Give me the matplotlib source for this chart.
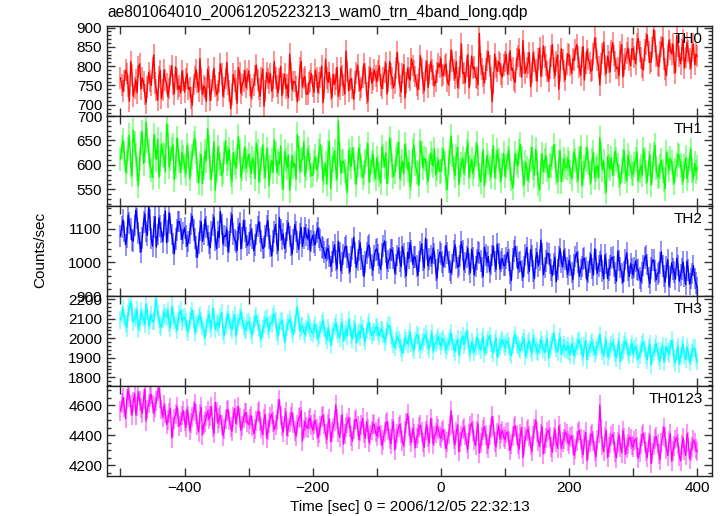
import numpy as np
import matplotlib.pyplot as plt
from matplotlib.ticker import MultipleLocator

# ---  DATA  --- #
# 2-s bins from -500 s to 400 s (one row = 100 s)
TIME = np.arange(-500, 401, 2)

TH0 = [
    770, 752, 735, 761, 790, 781, 748, 709, 812, 777, 722, 744, 765, 731, 798, 806, 741, 770, 760, 727, 705, 746, 783, 762, 750, 795, 829, 757, 738, 712, 772, 789, 716, 738, 790, 764, 755, 721, 742, 776, 801, 753, 728, 798, 766, 740, 749, 731, 787, 763,
    733, 768, 781, 740, 745, 717, 699, 753, 772, 791, 758, 734, 820, 766, 727, 749, 744, 709, 792, 772, 711, 739, 763, 795, 748, 726, 737, 758, 806, 779, 722, 745, 768, 810, 754, 736, 690, 728, 779, 761, 741, 704, 796, 782, 730, 752, 761, 789, 745, 767,
    788, 752, 719, 741, 752, 776, 803, 764, 741, 722, 770, 793, 696, 735, 784, 768, 757, 781, 735, 746, 812, 770, 748, 731, 766, 799, 724, 755, 779, 742, 752, 718, 831, 784, 739, 760, 760, 747, 708, 739, 795, 812, 746, 768, 773, 727, 728, 756, 762, 781,
    749, 732, 790, 771, 732, 756, 771, 800, 705, 744, 818, 769, 758, 784, 741, 719, 779, 753, 766, 797, 722, 740, 797, 776, 751, 728, 839, 787, 736, 764, 768, 742, 714, 759, 782, 803, 760, 738, 745, 772, 806, 781, 731, 709, 772, 795, 756, 767, 790, 774,
    760, 789, 801, 752, 742, 770, 785, 808, 728, 761, 812, 779, 770, 744, 755, 796, 836, 782, 749, 733, 781, 804, 718, 757, 795, 771, 764, 819, 802, 788, 773, 752, 740, 767, 828, 794, 757, 736, 789, 813, 745, 778, 812, 791, 776, 749, 762, 784, 807, 798,
    820, 774, 778, 801, 806, 762, 751, 789, 842, 813, 790, 768, 812, 745, 769, 798, 858, 781, 783, 757, 801, 829, 744, 776, 826, 794, 798, 771, 770, 752, 885, 806, 792, 774, 756, 793, 815, 838, 800, 769, 708, 756, 831, 797, 787, 812, 805, 779, 772, 803,
    812, 831, 779, 806, 840, 790, 795, 763, 758, 818, 826, 844, 801, 772, 866, 809, 782, 797, 809, 835, 747, 784, 834, 812, 790, 761, 818, 847, 774, 801, 852, 823, 803, 786, 761, 794, 827, 856, 796, 775, 812, 829, 740, 788, 845, 817, 788, 765, 806, 832,
    829, 802, 781, 819, 815, 843, 856, 824, 797, 776, 822, 851, 764, 808, 841, 819, 808, 787, 790, 832, 873, 847, 815, 798, 752, 806, 833, 862, 802, 781, 826, 811, 785, 839, 861, 828, 812, 794, 796, 776, 838, 856, 772, 803, 819, 834, 847, 816, 801, 845,
    845, 823, 806, 859, 872, 838, 821, 797, 790, 842, 858, 881, 836, 809, 812, 848, 894, 866, 827, 803, 799, 836, 851, 874, 818, 792, 776, 829, 866, 843, 832, 857, 809, 783, 879, 851, 825, 806, 842, 868, 795, 822, 861, 839, 818, 795, 838, 857, 804, 831,
    826,
]

TH1 = [
    612, 637, 650, 624, 585, 606, 633, 661, 598, 579, 671, 644, 620, 593, 557, 612, 645, 667, 603, 628, 688, 650, 628, 599, 590, 574, 661, 638, 611, 652, 575, 603, 642, 621, 619, 586, 684, 659, 596, 613, 632, 641, 570, 597, 655, 630, 608, 584, 626, 615,
    598, 582, 640, 619, 571, 603, 617, 644, 655, 626, 589, 563, 603, 621, 562, 594, 628, 609, 674, 637, 595, 571, 611, 648, 548, 590, 636, 615, 602, 579, 587, 624, 649, 603, 613, 632, 580, 566, 625, 604, 596, 617, 658, 629, 574, 592, 610, 637, 592, 608,
    621, 599, 583, 614, 604, 572, 645, 627, 566, 589, 612, 641, 597, 575, 633, 612, 558, 596, 609, 585, 651, 623, 585, 607, 602, 638, 574, 551, 627, 610, 594, 620, 548, 582, 619, 596, 603, 571, 662, 634, 588, 609, 611, 647, 577, 593, 633, 615, 600, 578,
    579, 606, 617, 590, 596, 628, 641, 614, 568, 584, 603, 561, 625, 647, 552, 593, 611, 629, 592, 570, 690, 621, 584, 606, 608, 588, 571, 543, 629, 612, 597, 635, 612, 586, 560, 601, 635, 617, 598, 574, 583, 607, 621, 643, 565, 589, 606, 622, 590, 571,
    614, 595, 580, 563, 637, 618, 596, 624, 562, 587, 655, 630, 599, 576, 585, 611, 621, 647, 573, 593, 608, 581, 642, 619, 591, 605, 556, 572, 627, 640, 603, 586, 581, 559, 649, 624, 595, 613, 612, 583, 567, 598, 624, 609, 598, 633, 579, 592, 610, 587,
    588, 611, 632, 603, 571, 550, 605, 627, 659, 620, 594, 578, 617, 636, 560, 590, 601, 614, 583, 602, 628, 645, 575, 596, 611, 582, 596, 621, 644, 613, 579, 566, 602, 631, 557, 588, 619, 604, 593, 575, 608, 639, 574, 597, 631, 610, 589, 568, 600, 623,
    577, 598, 614, 631, 592, 571, 553, 584, 623, 606, 598, 627, 642, 613, 580, 559, 606, 593, 569, 588, 611, 636, 595, 578, 632, 604, 561, 549, 600, 622, 586, 609, 619, 590, 574, 600, 598, 614, 641, 618, 583, 565, 605, 629, 566, 590, 612, 597, 594, 612,
    603, 586, 571, 599, 627, 610, 589, 568, 614, 637, 558, 582, 596, 611, 636, 605, 584, 563, 609, 626, 573, 591, 598, 574, 655, 622, 590, 608, 566, 545, 617, 598, 592, 614, 579, 602, 628, 611, 599, 577, 561, 589, 607, 630, 585, 567, 620, 603, 596, 581,
    582, 601, 611, 627, 567, 588, 598, 579, 633, 612, 586, 565, 603, 620, 559, 583, 621, 640, 594, 575, 578, 597, 609, 588, 570, 552, 626, 606, 591, 613, 605, 584, 563, 590, 600, 622, 618, 599, 584, 567, 597, 615, 572, 589, 612, 631, 589, 571, 603, 586,
    595,
]

TH2 = [
    1078, 1104, 1125, 1091, 1052, 1073, 1140, 1117, 1098, 1066, 1063, 1109, 1155, 1130, 1087, 1059, 1031, 1072, 1119, 1143, 1092, 1080, 1168, 1126, 1070, 1048, 1104, 1135, 1045, 1082, 1132, 1107, 1089, 1061, 1110, 1152, 1058, 1093, 1147, 1115, 1083, 1056, 1025, 1069, 1096, 1121, 1121, 1099, 1068, 1087,
    1102, 1078, 1049, 1062, 1086, 1114, 1137, 1096, 1071, 1045, 1015, 1058, 1094, 1120, 1062, 1083, 1128, 1105, 1080, 1057, 1043, 1091, 1110, 1134, 1066, 1040, 1091, 1073, 1150, 1112, 1055, 1079, 1077, 1098, 1032, 1061, 1118, 1141, 1084, 1067, 1061, 1035, 1099, 1116, 1040, 1072, 1125, 1093, 1073, 1050,
    1058, 1081, 1097, 1070, 1034, 1052, 1082, 1106, 1121, 1089, 1063, 1041, 1045, 1078, 1108, 1124, 1071, 1049, 1019, 1063, 1090, 1112, 1056, 1035, 1133, 1096, 1068, 1084, 1041, 1059, 1094, 1117, 1077, 1050, 1025, 1068, 1112, 1091, 1060, 1038, 1085, 1103, 1047, 1072, 1103, 1081, 1069, 1095, 1036, 1064,
    1080, 1061, 1052, 1089, 1101, 1074, 1067, 1046, 1043, 1030, 1012, 1037, 1041, 1019, 988, 1003, 1030, 1052, 1005, 981, 1062, 1027, 975, 998, 1023, 1044, 1048, 1016, 996, 972, 1017, 1039, 1074, 1028, 984, 1007, 1035, 1058, 1009, 990, 958, 1001, 1028, 1046, 1051, 1013, 992, 976, 1019, 1036,
    1040, 1022, 997, 979, 1025, 1048, 1063, 1031, 982, 1004, 1011, 1037, 1036, 1012, 968, 993, 1020, 1043, 1003, 987, 1047, 1024, 985, 960, 1029, 1011, 1058, 1034, 994, 1016, 1015, 989, 961, 1002, 1032, 1055, 1006, 983, 1071, 1038, 989, 1010, 1018, 997, 1042, 1026, 977, 953, 1008, 1030,
    1024, 1001, 987, 1015, 1050, 1028, 1001, 976, 969, 994, 1033, 1052, 1012, 985, 990, 1018, 1061, 1035, 978, 999, 1016, 1041, 995, 970, 1039, 1013, 962, 988, 1008, 1031, 1027, 1004, 984, 959, 1045, 1022, 999, 1017, 971, 993, 1020, 1048, 1003, 979, 1054, 1026, 980, 1002, 1011, 990,
    992, 1012, 1030, 1007, 968, 946, 1009, 1033, 1047, 1015, 981, 999, 1002, 976, 955, 988, 1021, 1044, 996, 973, 1038, 1019, 974, 952, 1011, 1029, 989, 1006, 1066, 1024, 963, 985, 1004, 1027, 1025, 997, 978, 960, 995, 1016, 942, 979, 1017, 1040, 1000, 986, 1035, 1009, 984, 964,
    1006, 990, 970, 949, 994, 1017, 1029, 1001, 958, 979, 988, 1010, 1012, 983, 947, 971, 999, 1024, 981, 962, 1040, 1008, 966, 989, 1003, 1021, 975, 951, 1021, 996, 952, 978, 990, 1013, 1015, 987, 969, 944, 1033, 1005, 985, 967, 941, 973, 1008, 1028, 977, 958, 996, 982,
    962, 985, 1004, 979, 978, 954, 943, 968, 991, 1013, 1020, 994, 955, 937, 983, 1006, 1007, 975, 948, 966, 972, 998, 1031, 989, 960, 941, 986, 1008, 929, 957, 998, 980, 971, 950, 1012, 991, 944, 963, 980, 1001, 958, 934, 1003, 977, 935, 952, 967, 990, 952, 938,
    925,
]

TH3 = [
    2095, 2122, 2150, 2107, 2072, 2054, 2128, 2161, 2190, 2135, 2084, 2103, 2116, 2147, 2045, 2078, 2139, 2112, 2101, 2070, 2172, 2138, 2063, 2095, 2120, 2086, 2088, 2152, 2205, 2124, 2097, 2067, 2058, 2099, 2131, 2111, 2110, 2143, 2076, 2052, 2165, 2118, 2092, 2071, 2041, 2089, 2124, 2146, 2083, 2104,
    2108, 2084, 2052, 2033, 2091, 2117, 2143, 2099, 2030, 2062, 2077, 2105, 2119, 2091, 2064, 2040, 2003, 2056, 2098, 2126, 2071, 2049, 2156, 2110, 2045, 2073, 2082, 2058, 2112, 2133, 2036, 2014, 2069, 2097, 2125, 2087, 2058, 2042, 2093, 2121, 2010, 2060, 2081, 2106, 2137, 2092, 2062, 2039, 2048, 2079,
    2087, 2065, 2039, 2018, 2072, 2101, 2115, 2080, 2050, 2027, 1995, 2047, 2068, 2093, 2103, 2064, 2041, 2077, 2079, 2108, 2126, 2089, 2033, 2011, 2061, 2085, 2090, 2052, 1978, 2029, 2056, 2082, 2098, 2070, 2044, 2019, 2074, 2111, 2162, 2094, 2037, 2058, 2065, 2034, 2019, 2051, 2083, 2067, 2052, 2031,
    2026, 2049, 2071, 2036, 1998, 2017, 2045, 2072, 2089, 2054, 2013, 1990, 2052, 2028, 1964, 2006, 2037, 2061, 2078, 2040, 2021, 2002, 2060, 2083, 1986, 2024, 2043, 2012, 2095, 2058, 2018, 1996, 2049, 2074, 1975, 2021, 2034, 2003, 2068, 2047, 2007, 1984, 2041, 2066, 2083, 2035, 2015, 2032, 2029, 2055,
    2058, 2031, 2012, 2044, 2046, 2020, 1981, 2008, 2039, 2067, 2063, 2016, 1995, 1969, 1952, 1987, 2011, 1994, 1978, 1950, 1923, 1962, 2004, 1985, 1970, 1999, 2032, 1973, 1956, 1938, 1989, 2018, 2015, 1977, 1941, 1964, 1983, 2006, 2021, 1990, 1962, 1945, 1998, 2027, 1935, 1967, 1976, 1992, 2008, 1981,
    1960, 1987, 1999, 1971, 1938, 1957, 1982, 2003, 2027, 1979, 1951, 1930, 1974, 1996, 1915, 1948, 1991, 2012, 1966, 1985, 2040, 1995, 1947, 1921, 1980, 1963, 1928, 1954, 2006, 1983, 1958, 1939, 1985, 2009, 1920, 1952, 1970, 1994, 2012, 1976, 1943, 1925, 1976, 1999, 1901, 1944, 1961, 1980, 1994, 1968,
    1952, 1976, 1989, 1961, 1928, 1911, 1964, 1993, 2018, 1972, 1964, 1947, 1937, 1969, 1981, 2001, 1906, 1938, 1970, 1988, 1943, 1921, 2005, 1977, 1958, 1934, 1926, 1959, 1992, 1968, 1945, 1926, 1974, 1997, 1899, 1942, 1961, 1983, 2029, 1971, 1950, 1929, 1984, 2007, 1918, 1952, 1967, 1946, 1940, 1963,
    1935, 1914, 1972, 1955, 1910, 1937, 1958, 1982, 1993, 1961, 1926, 1903, 1962, 1989, 1889, 1933, 1948, 1970, 1981, 1952, 1917, 1940, 1955, 1978, 2020, 1963, 1932, 1909, 1969, 1992, 1904, 1931, 1946, 1968, 1978, 1951, 1923, 1898, 1959, 1985, 1881, 1927, 1941, 1966, 1987, 1957, 1929, 1911, 1953, 1974,
    1918, 1944, 1960, 1926, 1893, 1915, 1942, 1967, 1980, 1948, 1911, 1889, 1949, 1972, 1864, 1908, 1927, 1953, 1971, 1936, 1905, 1882, 1938, 1961, 1879, 1917, 1956, 1932, 1920, 1947, 1990, 1952, 1898, 1873, 1934, 1958, 1867, 1910, 1945, 1969, 1912, 1890, 1954, 1931, 1875, 1906, 1928, 1949, 1950, 1902,
    1880,
]

TH0123 = [
    4560, 4612, 4650, 4585, 4510, 4638, 4700, 4655, 4598, 4532, 4620, 4677, 4535, 4590, 4690, 4628, 4580, 4545, 4640, 4705, 4495, 4570, 4610, 4655, 4672, 4604, 4550, 4588, 4625, 4690, 4715, 4647, 4570, 4520, 4600, 4548, 4470, 4502, 4545, 4580, 4380, 4455, 4505, 4538, 4590, 4517, 4460, 4485, 4530, 4562,
    4495, 4450, 4572, 4531, 4430, 4478, 4518, 4560, 4610, 4542, 4465, 4420, 4540, 4585, 4402, 4470, 4488, 4525, 4560, 4508, 4525, 4590, 4450, 4412, 4618, 4552, 4480, 4515, 4532, 4468, 4395, 4440, 4505, 4563, 4570, 4497, 4455, 4425, 4520, 4576, 4478, 4530, 4590, 4512, 4430, 4463, 4510, 4548, 4545, 4485,
    4470, 4505, 4528, 4460, 4410, 4442, 4495, 4550, 4560, 4490, 4445, 4402, 4505, 4538, 4380, 4432, 4478, 4520, 4540, 4487, 4435, 4465, 4500, 4575, 4635, 4530, 4460, 4418, 4512, 4557, 4398, 4450, 4485, 4524, 4550, 4478, 4425, 4392, 4470, 4516, 4520, 4562, 4360, 4437, 4490, 4455, 4445, 4500, 4515, 4468,
    4430, 4475, 4498, 4440, 4385, 4412, 4462, 4520, 4530, 4472, 4405, 4370, 4475, 4510, 4355, 4418, 4448, 4492, 4600, 4505, 4420, 4385, 4470, 4535, 4340, 4406, 4455, 4480, 4515, 4452, 4395, 4360, 4440, 4497, 4505, 4462, 4370, 4425, 4465, 4512, 4410, 4378, 4488, 4441, 4350, 4398, 4430, 4475, 4470, 4418,
    4395, 4440, 4455, 4402, 4330, 4368, 4420, 4475, 4490, 4431, 4375, 4340, 4440, 4492, 4300, 4372, 4410, 4455, 4470, 4415, 4360, 4325, 4425, 4482, 4540, 4462, 4390, 4350, 4445, 4410, 4315, 4380, 4405, 4452, 4465, 4420, 4350, 4318, 4430, 4470, 4385, 4345, 4510, 4448, 4340, 4395, 4415, 4460, 4440, 4392,
    4380, 4420, 4435, 4375, 4310, 4352, 4405, 4462, 4560, 4470, 4370, 4335, 4420, 4468, 4290, 4356, 4395, 4437, 4450, 4398, 4345, 4305, 4410, 4459, 4480, 4425, 4365, 4330, 4425, 4476, 4280, 4345, 4390, 4432, 4455, 4402, 4340, 4312, 4400, 4446, 4525, 4460, 4355, 4320, 4415, 4465, 4375, 4410, 4430, 4385,
    4370, 4412, 4420, 4360, 4300, 4338, 4395, 4450, 4460, 4402, 4340, 4305, 4405, 4452, 4250, 4330, 4385, 4428, 4440, 4392, 4330, 4290, 4395, 4443, 4500, 4418, 4360, 4322, 4410, 4458, 4275, 4340, 4380, 4420, 4435, 4388, 4320, 4285, 4390, 4438, 4350, 4312, 4460, 4405, 4310, 4356, 4375, 4422, 4405, 4360,
    4340, 4385, 4395, 4335, 4265, 4308, 4360, 4415, 4430, 4372, 4310, 4270, 4370, 4418, 4230, 4302, 4350, 4395, 4410, 4360, 4295, 4255, 4365, 4410, 4600, 4440, 4330, 4290, 4385, 4430, 4250, 4318, 4345, 4392, 4405, 4356, 4285, 4248, 4355, 4402, 4320, 4282, 4430, 4378, 4270, 4315, 4340, 4388, 4375, 4330,
    4320, 4362, 4375, 4318, 4245, 4288, 4340, 4396, 4410, 4352, 4290, 4250, 4350, 4398, 4210, 4282, 4330, 4372, 4390, 4340, 4275, 4236, 4345, 4392, 4450, 4385, 4305, 4262, 4360, 4408, 4225, 4295, 4325, 4370, 4385, 4338, 4260, 4228, 4335, 4382, 4300, 4265, 4410, 4352, 4240, 4290, 4320, 4368, 4350, 4305,
    4290,
]

BANDS = ['TH0', 'TH1', 'TH2', 'TH3', 'TH0123']
SERIES = [TH0, TH1, TH2, TH3, TH0123]
ERRORS = [28, 25, 32, 45, 66]
YLIMS = [(671, 904), (516, 700), (900, 1167), (1755, 2217), (4127, 4727)]
YTICKS = [[700, 750, 800, 850, 900], [550, 600, 650, 700], [900, 1000, 1100],
          [1800, 1900, 2000, 2100, 2200], [4200, 4400, 4600]]
YMINOR = [10, 10, 20, 20, 50]
COLORS = ['#ff0000', '#00ff00', '#0000ff', '#00ffff', '#ff00ff']

TITLE = 'ae801064010_20061205223213_wam0_trn_4band_long.qdp'
XLABEL = 'Time [sec] 0 = 2006/12/05 22:32:13'
YLABEL = 'Counts/sec'


# ---   MAIN   --- #
if __name__ == '__main__':
    plt.rcParams['font.family'] = ['Liberation Sans', 'DejaVu Sans']
    plt.rcParams['font.size'] = 11
    fig = plt.figure(figsize=(7.24, 5.16), dpi=100)
    gs = fig.add_gridspec(5, 1, left=0.1478, right=0.9834,
                          top=0.9496, bottom=0.0775, hspace=0)
    axes = [fig.add_subplot(gs[i, 0]) for i in range(5)]
    for i, ax in enumerate(axes):
        y = np.array(SERIES[i])
        # light error bars under the dark trace
        ax.errorbar(TIME, y, yerr=ERRORS[i], fmt='none',
                    ecolor=COLORS[i], alpha=0.5, elinewidth=1.2)
        ax.plot(TIME, y, color=COLORS[i], lw=1.0)
        ax.set_xlim(-521, 423)
        ax.set_ylim(*YLIMS[i])
        ax.set_yticks(YTICKS[i])
        ax.yaxis.set_minor_locator(MultipleLocator(YMINOR[i]))
        ax.set_xticks([-400, -200, 0, 200, 400])
        ax.xaxis.set_minor_locator(MultipleLocator(100))
        ax.tick_params(which='both', direction='in', top=True, right=True,
                       width=1, color='#333333')
        ax.tick_params(which='both', axis='x', length=6)
        ax.tick_params(which='major', axis='y', length=6)
        ax.tick_params(which='minor', axis='y', length=3)
        for sp in ax.spines.values():
            sp.set_linewidth(1.0)
            sp.set_color('#222222')
        ax.text(0.985, 0.93, BANDS[i], transform=ax.transAxes,
                ha='right', va='top', fontsize=11)
        if i < 4:
            ax.tick_params(axis='x', labelbottom=False)
    axes[-1].set_xlabel(XLABEL, labelpad=4)
    fig.text(0.1478, 0.975, TITLE, ha='left', va='center', fontsize=11.2)
    fig.text(0.056, 0.515, YLABEL, rotation=90, ha='center', va='center')
    fig.savefig('out.png', dpi=100)
